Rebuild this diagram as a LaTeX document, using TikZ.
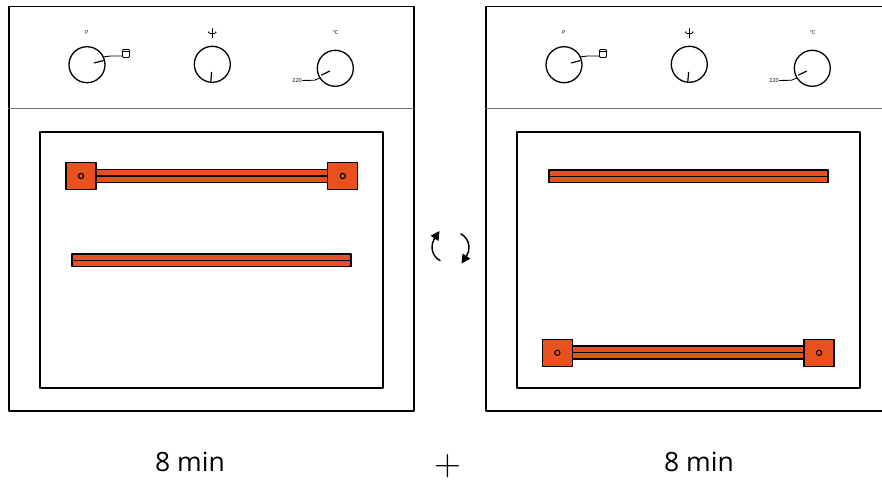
\documentclass[tikz,border=0pt]{standalone}
\usepackage{fontspec}
\setmainfont{Open Sans}
\usetikzlibrary{arrows.meta}

\definecolor{rackorange}{RGB}{232,80,30}
\definecolor{panelgray}{RGB}{115,115,115}

\begin{document}
\begin{tikzpicture}[x=1pt, y=-1pt, line join=round, line cap=round,
	>={Triangle[length=9pt, width=9pt]},
	cabinet/.style={line width=1.5pt},
	panel line/.style={draw=panelgray, line width=1.4pt},
	window/.style={line width=1.6pt},
	knob/.style={circle, draw, line width=1.3pt, minimum size=36pt, inner sep=0pt},
	pointer/.style={line width=1.2pt},
	leader/.style={line width=0.9pt},
	tiny/.style={font=\fontsize{5.5}{6}\selectfont, inner sep=0.5pt},
	mode icon/.style={rectangle, draw, rounded corners=1pt, line width=0.9pt, minimum width=7pt, minimum height=8pt, inner sep=0pt},
	rail/.style={fill=rackorange, draw=black, line width=1.3pt},
	rack end/.style={rectangle, fill=rackorange, draw, line width=1.3pt, minimum width=30pt, minimum height=27pt, inner sep=0pt},
	timer/.style={font=\fontsize{26.5}{30}\selectfont, anchor=base}]
	
	\useasboundingbox (0,0) rectangle (882,483);
	\clip (0,0) rectangle (882,483);
	
	% ==========================================
	% LO 1: KHAY TRUOC KHI DOI CHO (BEN TRAI)
	% ==========================================
	\begin{scope}[shift={(0,0)}]
		% 1. Vo lo, bang dieu khien va cua kinh
		\draw[cabinet] (9,6.5) rectangle (414,411);
		\draw[panel line] (9,108.5) -- (414,108.5);
		\draw[window] (40,132) rectangle (383,388);
		
		% 2. Ba nut van
		\node[knob] (powerL) at (87,64.7) {};
		\node[knob] (fanL) at (212.3,64.3) {};
		\node[knob] (tempL) at (335.3,68.3) {};
		
		\draw[pointer] (powerL.center) ++(-14:7.4) -- ++(-14:9.4);
		\draw[pointer] (fanL.center) ++(95:8) -- ++(95:9);
		\draw[pointer] (tempL.center) ++(154:6.3) -- ++(154:9);
		
		% Ky hieu tren nut
		\node[tiny] (pL) at (86.7,32.5) {P};
		\node[tiny] (cL) at (335.5,32.5) {°C};
		\draw[line width=0.6pt] (212.3,28.5) -- (212.3,38) (209.5,33) -- (215.1,33);
		\fill (208.8,32.2) circle (0.9pt) (215.8,32.2) circle (0.9pt);
		
		\node[mode icon] (modeL) at (126,53.5) {};
		\draw[line width=0.7pt] ([yshift=-2.6pt]modeL.north west) -- ([yshift=-2.6pt]modeL.north east);
		\draw[leader] (powerL.25) -- (110.5,56) -- (modeL.west |- 0,56);
		
		\node[tiny, anchor=east] (setL) at (302.5,80.5) {220};
		\draw[leader] (tempL.212) -- (314.5,80.2) -- (setL.east);
		
		% 3. Khay tren co hai tai, khay giua tron
		\filldraw[rail] (96,169.7) rectangle (328,182.3);
		\draw[line width=1.2pt] (96,176) -- (328,176);
		\node[rack end] (rackLa) at (81,176) {};
		\node[rack end] (rackLb) at (342.8,176) {};
		\draw[line width=1.1pt] (rackLa.center) circle (2.6pt) (rackLb.center) circle (2.6pt);
		
		\filldraw[rail] (72,254) rectangle (351,266.5);
		\draw[line width=1.2pt] (72,260.2) -- (351,260.2);
	\end{scope}
	
	% ==========================================
	% LO 2: KHAY SAU KHI DOI CHO (BEN PHAI)
	% ==========================================
	\begin{scope}[shift={(477,0)}]
		% 1. Vo lo, bang dieu khien va cua kinh
		\draw[cabinet] (9,6.5) rectangle (414,411);
		\draw[panel line] (9,108.5) -- (414,108.5);
		\draw[window] (40,132) rectangle (383,388);
		
		% 2. Ba nut van
		\node[knob] (powerR) at (87,64.7) {};
		\node[knob] (fanR) at (212.3,64.3) {};
		\node[knob] (tempR) at (335.3,68.3) {};
		
		\draw[pointer] (powerR.center) ++(-14:7.4) -- ++(-14:9.4);
		\draw[pointer] (fanR.center) ++(95:8) -- ++(95:9);
		\draw[pointer] (tempR.center) ++(154:6.3) -- ++(154:9);
		
		% Ky hieu tren nut
		\node[tiny] (pR) at (86.7,32.5) {P};
		\node[tiny] (cR) at (335.5,32.5) {°C};
		\draw[line width=0.6pt] (212.3,28.5) -- (212.3,38) (209.5,33) -- (215.1,33);
		\fill (208.8,32.2) circle (0.9pt) (215.8,32.2) circle (0.9pt);
		
		\node[mode icon] (modeR) at (126,53.5) {};
		\draw[line width=0.7pt] ([yshift=-2.6pt]modeR.north west) -- ([yshift=-2.6pt]modeR.north east);
		\draw[leader] (powerR.25) -- (110.5,56) -- (modeR.west |- 0,56);
		
		\node[tiny, anchor=east] (setR) at (302.5,80.5) {220};
		\draw[leader] (tempR.212) -- (314.5,80.2) -- (setR.east);
		
		% 3. Khay tron o tren, khay co hai tai xuong duoi
		\filldraw[rail] (72,170) rectangle (351,182.5);
		\draw[line width=1.2pt] (72,176.2) -- (351,176.2);
		
		\filldraw[rail] (95,346) rectangle (327,359);
		\draw[line width=1.2pt] (95,352.5) -- (327,352.5);
		\node[rack end] (rackRa) at (80.3,352.8) {};
		\node[rack end] (rackRb) at (342,352.8) {};
		\draw[line width=1.1pt] (rackRa.center) circle (2.6pt) (rackRb.center) circle (2.6pt);
	\end{scope}
	
	% Mui ten doi cho hai khay
	\draw[->, line width=1.5pt] (446,247) ++(115:14 and 15)
		arc[start angle=115, end angle=215, x radius=14, y radius=15] -- ++(5,-7.5);
	\draw[->, line width=1.5pt] (455,247.5) ++(-65:14 and 15)
		arc[start angle=-65, end angle=35, x radius=14, y radius=15] -- ++(-5,7.5);
	
	% Thoi gian
	\node[timer] (timeL) at (190,471.7) {8 min};
	\node[timer] (timeR) at (699,471.7) {8 min};
	\node[font=\fontsize{24}{28}\selectfont, scale=1.5] (plus) at (447.5,465.7) {$+$};
\end{tikzpicture}
\end{document}
